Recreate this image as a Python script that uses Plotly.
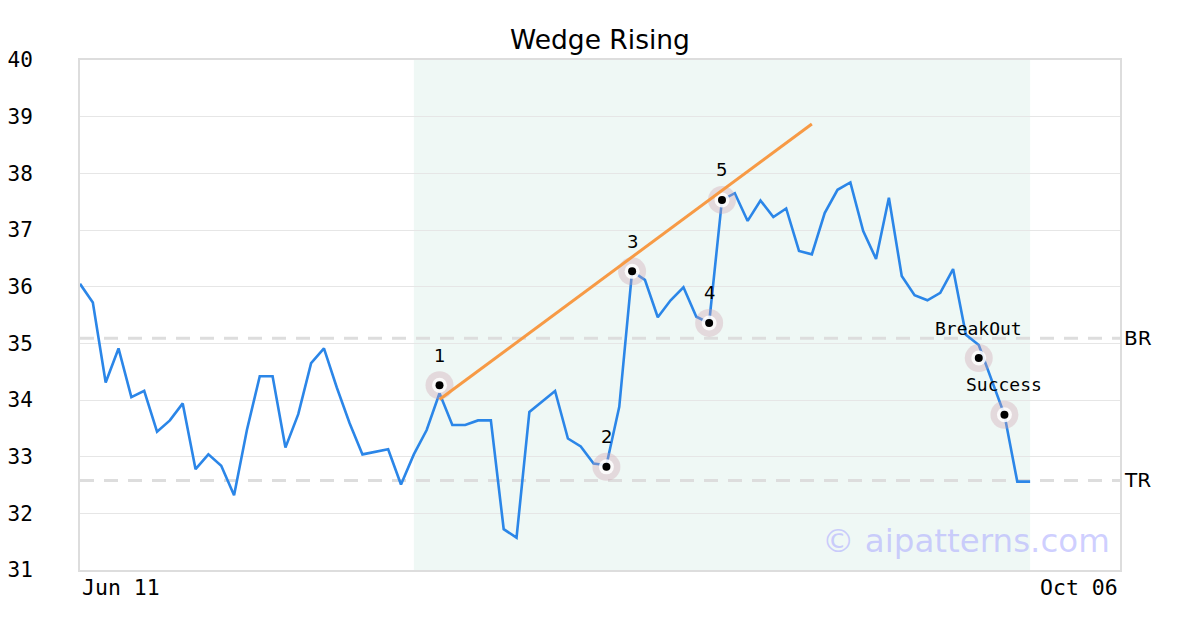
import plotly.graph_objects as go

# ---- data ----
price = [36.05, 35.72, 34.31, 34.91, 34.05, 34.16, 33.44, 33.64, 33.94, 32.78,
         33.04, 32.84, 32.32, 33.47, 34.42, 34.42, 33.16, 33.75, 34.65, 34.91,
         34.22, 33.59, 33.04, 33.08, 33.13, 32.51, 33.04, 33.47, 34.12, 33.56,
         33.56, 33.64, 33.64, 31.72, 31.57, 33.79, 33.98, 34.16, 33.32, 33.18,
         32.88, 32.85, 33.88, 36.27, 36.12, 35.46, 35.76, 35.99, 35.47, 35.36,
         37.53, 37.65, 37.16, 37.52, 37.23, 37.38, 36.63, 36.57, 37.30, 37.71,
         37.84, 36.98, 36.49, 37.57, 36.19, 35.85, 35.76, 35.89, 36.31, 35.15,
         34.97, 34.37, 33.74, 32.56, 32.56]
n_slots = 81  # axis spans index 0..81

point_labels = ["1", "2", "3", "4", "5", "BreakOut", "Success"]
point_idx = [28, 41, 43, 49, 50, 70, 72]
point_val = [34.26, 32.82, 36.27, 35.36, 37.53, 34.74, 33.74]

trend_idx = [28, 57]
trend_val = [34.01, 38.87]

br_level = 35.09
tr_level = 32.58
shade_start, shade_end = 26, 74

y_ticks = [31, 32, 33, 34, 35, 36, 37, 38, 39, 40]
x_start_label = "Jun 11"
x_end_label = "Oct 06"
title = "Wedge Rising"
watermark = "© aipatterns.com"

MONO = "DejaVu Sans Mono"
SANS = "DejaVu Sans"

fig = go.Figure()

fig.add_trace(go.Scatter(x=list(range(len(price))), y=price, mode="lines",
                         line=dict(color="#2b86e8", width=2.6), hoverinfo="skip"))
# marker halo / ring / dot
fig.add_trace(go.Scatter(x=point_idx, y=point_val, mode="markers",
                         marker=dict(size=28, color="rgba(205,160,175,0.35)", line=dict(width=0)),
                         hoverinfo="skip"))
fig.add_trace(go.Scatter(x=point_idx, y=point_val, mode="markers",
                         marker=dict(size=15, color="rgba(255,255,255,0.85)", line=dict(width=0)),
                         hoverinfo="skip"))
fig.add_trace(go.Scatter(x=point_idx, y=point_val, mode="markers",
                         marker=dict(size=8, color="black", line=dict(width=0)),
                         hoverinfo="skip"))
fig.add_trace(go.Scatter(x=trend_idx, y=trend_val, mode="lines",
                         line=dict(color="#f79a45", width=3), hoverinfo="skip"))

shapes = [
    dict(type="rect", xref="x", yref="paper", x0=shade_start, x1=shade_end, y0=0, y1=1,
         fillcolor="#eff8f5", line=dict(width=0), layer="below"),
    dict(type="line", xref="paper", yref="y", x0=0, x1=1, y0=br_level, y1=br_level,
         line=dict(color="#dddddd", width=3, dash="14px,10px"), layer="between"),
    dict(type="line", xref="paper", yref="y", x0=0, x1=1, y0=tr_level, y1=tr_level,
         line=dict(color="#dddddd", width=3, dash="14px,10px"), layer="between"),
]

annotations = []
for lab, xi, yv in zip(point_labels, point_idx, point_val):
    annotations.append(dict(x=xi, y=yv, xref="x", yref="y", text=lab, showarrow=False,
                            yshift=30, font=dict(family=MONO if len(lab) > 1 else SANS,
                                                 size=18, color="black")))
annotations += [
    dict(x=1, y=br_level, xref="paper", yref="y", text="BR", showarrow=False,
         xanchor="left", xshift=2, font=dict(family=SANS, size=20, color="black")),
    dict(x=1, y=tr_level, xref="paper", yref="y", text="TR", showarrow=False,
         xanchor="left", xshift=2, font=dict(family=SANS, size=20, color="black")),
    dict(x=0, y=0, xref="paper", yref="paper", text=x_start_label, showarrow=False,
         xanchor="left", yanchor="top", yshift=-3, font=dict(family=MONO, size=21.5, color="black")),
    dict(x=1, y=0, xref="paper", yref="paper", text=x_end_label, showarrow=False,
         xanchor="right", yanchor="top", yshift=-3, font=dict(family=MONO, size=21.5, color="black")),
    dict(x=1, y=0, xref="paper", yref="paper", text=watermark, showarrow=False,
         xanchor="right", yanchor="bottom", xshift=-8, yshift=8,
         font=dict(family=SANS, size=32.5, color="rgba(175,175,255,0.6)")),
]

fig.update_layout(
    width=1200, height=630,
    margin=dict(l=72, r=88, t=52, b=68, autoexpand=False),
    paper_bgcolor="white", plot_bgcolor="white",
    showlegend=False,
    title=dict(text=title, x=(600 - 8) / 1200, xanchor="center",
               y=1 - 32 / 630, yanchor="middle",
               font=dict(family=SANS, size=26.5, color="black")),
    shapes=shapes, annotations=annotations,
    xaxis=dict(range=[0, n_slots], showgrid=False, zeroline=False, showticklabels=False,
               showline=True, linecolor="#dddddd", linewidth=2, mirror=True,
               automargin=False, fixedrange=True),
    yaxis=dict(range=[31, 40], tickvals=y_ticks, ticktext=[str(t) for t in y_ticks],
               showgrid=True, gridcolor="#e6e6e6", gridwidth=1, zeroline=False,
               showline=True, linecolor="#dddddd", linewidth=2, mirror=True,
               ticks="", ticklabelstandoff=41, automargin=False,
               tickfont=dict(family=MONO, size=21, color="black"), fixedrange=True),
)

fig.write_html("out.html")
